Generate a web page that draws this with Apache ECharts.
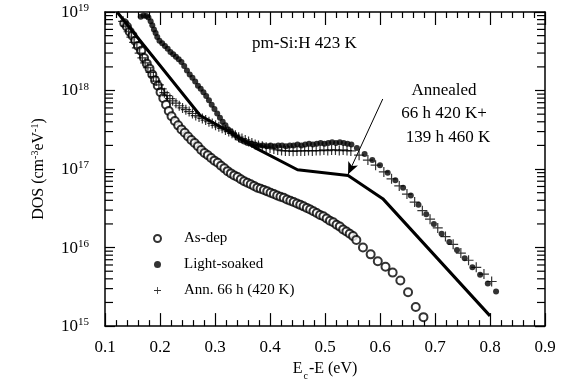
<!DOCTYPE html>
<html>
<head>
<meta charset="utf-8">
<script src="https://cdn.jsdelivr.net/npm/echarts@6/dist/echarts.min.js"></script>
<style>
html,body{margin:0;padding:0;background:#fff;}
#chart{width:569px;height:386px;}
</style>
</head>
<body>
<div id="chart"></div>
<script>
// ---- data (E_c - E in eV, DOS in cm^-3 eV^-1) ----
const xTicks = [0.1, 0.2, 0.3, 0.4, 0.5, 0.6, 0.7, 0.8, 0.9];
const yDecades = [1e15, 1e16, 1e17, 1e18, 1e19];
const minorMultipliers = [2, 3, 4, 5, 6, 7, 8, 9];

const asDep = [
  [0.135,7.2e18],[0.140,6.5e18],[0.145,5.6e18],[0.150,5.0e18],[0.155,4.3e18],[0.160,3.7e18],
  [0.166,3.2e18],[0.171,2.6e18],[0.176,2.2e18],[0.181,1.9e18],[0.186,1.6e18],[0.191,1.35e18],
  [0.196,1.15e18],[0.201,9.5e17],[0.206,8.0e17],[0.211,6.6e17],[0.216,5.5e17],[0.221,4.7e17],
  [0.227,4.1e17],[0.233,3.6e17],[0.239,3.2e17],[0.245,2.9e17],[0.251,2.6e17],[0.257,2.35e17],
  [0.263,2.15e17],[0.269,1.95e17],[0.275,1.75e17],[0.281,1.6e17],[0.287,1.5e17],[0.293,1.38e17],
  [0.299,1.28e17],[0.305,1.2e17],[0.311,1.1e17],[0.317,1.02e17],[0.323,9.4e16],[0.329,8.8e16],
  [0.335,8.3e16],[0.341,7.9e16],[0.347,7.4e16],[0.353,7.0e16],[0.359,6.7e16],[0.365,6.4e16],
  [0.371,6.1e16],[0.377,5.8e16],[0.383,5.6e16],[0.389,5.4e16],[0.395,5.2e16],[0.401,5.0e16],
  [0.407,4.8e16],[0.413,4.6e16],[0.419,4.45e16],[0.425,4.3e16],[0.431,4.1e16],[0.437,3.95e16],
  [0.443,3.8e16],[0.449,3.65e16],[0.455,3.5e16],[0.461,3.35e16],[0.467,3.2e16],[0.473,3.05e16],
  [0.479,2.9e16],[0.485,2.75e16],[0.491,2.6e16],[0.497,2.5e16],[0.503,2.35e16],[0.509,2.2e16],
  [0.515,2.1e16],[0.521,1.95e16],[0.527,1.85e16],[0.533,1.7e16],[0.539,1.6e16],[0.545,1.5e16],
  [0.551,1.4e16],[0.557,1.25e16],[0.569,1.0e16],[0.583,8.2e15],[0.596,6.7e15],[0.610,5.7e15],
  [0.623,4.8e15],[0.637,3.8e15],[0.651,2.7e15],[0.665,1.75e15],[0.679,1.3e15]
];

const lightSoaked = [
  [0.165,8.7e18],[0.170,9.0e18],[0.175,8.9e18],[0.179,8.5e18],[0.183,7.6e18],[0.186,6.8e18],
  [0.189,6.0e18],[0.192,5.4e18],[0.195,4.8e18],[0.199,4.3e18],[0.204,4.0e18],[0.209,3.7e18],
  [0.214,3.4e18],[0.219,3.1e18],[0.224,2.9e18],[0.229,2.7e18],[0.234,2.5e18],[0.239,2.3e18],
  [0.244,2.05e18],[0.249,1.8e18],[0.254,1.6e18],[0.259,1.45e18],[0.264,1.3e18],[0.269,1.15e18],
  [0.274,1.05e18],[0.279,9.5e17],[0.284,8.5e17],[0.289,7.5e17],[0.294,6.6e17],[0.299,5.8e17],
  [0.304,5.1e17],[0.309,4.5e17],[0.314,4.0e17],[0.319,3.6e17],[0.324,3.2e17],[0.329,3.0e17],
  [0.335,2.75e17],[0.341,2.5e17],[0.347,2.35e17],[0.353,2.25e17],[0.359,2.15e17],[0.366,2.1e17],
  [0.373,2.05e17],[0.380,2.0e17],[0.387,2.0e17],[0.394,1.95e17],[0.401,2.0e17],[0.408,1.95e17],
  [0.415,2.0e17],[0.422,2.0e17],[0.429,1.95e17],[0.436,2.0e17],[0.443,2.0e17],[0.450,2.05e17],
  [0.457,2.0e17],[0.464,2.05e17],[0.471,2.1e17],[0.478,2.05e17],[0.485,2.1e17],[0.492,2.15e17],
  [0.499,2.1e17],[0.506,2.15e17],[0.513,2.2e17],[0.520,2.15e17],[0.527,2.2e17],[0.534,2.15e17],
  [0.541,2.1e17],[0.548,2.05e17],[0.558,1.85e17],[0.572,1.55e17],[0.586,1.3e17],[0.600,1.12e17],
  [0.614,9.0e16],[0.628,7.2e16],[0.642,5.8e16],[0.656,4.6e16],[0.670,3.5e16],[0.684,2.65e16],
  [0.698,2.0e16],[0.712,1.5e16],[0.726,1.18e16],[0.740,9.3e15],[0.754,7.3e15],[0.768,5.6e15],
  [0.782,4.5e15],[0.796,3.5e15],[0.811,2.75e15]
];

const ann66h = [
  [0.133,7.6e18],[0.138,6.6e18],[0.143,5.6e18],[0.148,4.8e18],[0.153,4.1e18],[0.158,3.5e18],
  [0.163,3.0e18],[0.168,2.6e18],[0.173,2.25e18],[0.178,1.95e18],[0.183,1.7e18],[0.188,1.5e18],
  [0.193,1.32e18],[0.198,1.18e18],[0.203,1.05e18],[0.208,9.4e17],[0.213,8.6e17],[0.218,7.9e17],
  [0.223,7.4e17],[0.229,6.9e17],[0.235,6.4e17],[0.241,6.0e17],[0.247,5.7e17],[0.253,5.4e17],
  [0.259,5.1e17],[0.265,4.8e17],[0.271,4.6e17],[0.277,4.4e17],[0.283,4.2e17],[0.289,4.0e17],
  [0.295,3.8e17],[0.301,3.6e17],[0.307,3.45e17],[0.313,3.3e17],[0.319,3.15e17],[0.325,3.0e17],
  [0.331,2.85e17],[0.337,2.7e17],[0.343,2.55e17],[0.349,2.45e17],[0.355,2.35e17],[0.361,2.25e17],
  [0.367,2.15e17],[0.373,2.05e17],[0.379,2.0e17],[0.386,1.95e17],[0.393,1.9e17],[0.400,1.85e17],
  [0.407,1.8e17],[0.414,1.75e17],[0.421,1.72e17],[0.428,1.7e17],[0.435,1.7e17],[0.442,1.68e17],
  [0.449,1.7e17],[0.456,1.7e17],[0.463,1.7e17],[0.470,1.72e17],[0.477,1.7e17],[0.484,1.72e17],
  [0.491,1.72e17],[0.498,1.75e17],[0.505,1.72e17],[0.512,1.75e17],[0.519,1.75e17],[0.526,1.72e17],
  [0.533,1.75e17],[0.540,1.72e17],[0.547,1.7e17],[0.562,1.5e17],[0.578,1.3e17],[0.592,1.12e17],
  [0.607,9.2e16],[0.621,7.5e16],[0.635,6.1e16],[0.649,4.8e16],[0.663,3.8e16],[0.677,2.95e16],
  [0.691,2.3e16],[0.705,1.78e16],[0.719,1.38e16],[0.733,1.1e16],[0.747,8.5e15],[0.761,6.9e15],
  [0.775,5.6e15],[0.789,4.6e15],[0.803,3.7e15]
];

const annealedLine = [
  [0.122,1.0e19],[0.273,4.8e17],[0.322,3.1e17],[0.376,1.82e17],[0.450,9.8e16],
  [0.542,8.3e16],[0.605,4.2e16],[0.800,1.35e15]
];

const arrowFrom = [0.605, 7.8e17];
const arrowTo = [0.542, 8.6e16];

const seriesNames = ['As-dep', 'Light-soaked', 'Ann. 66 h (420 K)'];
const sampleLabel = 'pm-Si:H 423 K';
const annotationLines = ['Annealed', '66 h 420 K+', '139 h 460 K'];

// ---- chart ----
const FONT = '"Liberation Serif", "Times New Roman", serif';
const minorTickValues = [];
yDecades.slice(0, -1).forEach(d => minorMultipliers.forEach(m => minorTickValues.push([0.1, d * m])));

const plusPath = 'path://M0,4.4H10V5.6H0Z M4.4,0H5.6V10H4.4Z';

const chart = echarts.init(document.getElementById('chart'), null, {renderer: 'canvas'});

const axisLineStyle = {color: '#000', width: 1.5};
const baseX = {
  type: 'value', min: 0.1, max: 0.9, interval: 0.1,
  axisLine: {show: true, onZero: false, lineStyle: axisLineStyle},
  axisTick: {show: true, inside: true, length: 13, lineStyle: {color: '#000', width: 1.2}},
  minorTick: {show: true, splitNumber: 5, length: 6, lineStyle: {color: '#000', width: 1.2}},
  splitLine: {show: false}, minorSplitLine: {show: false}
};
const baseY = {
  type: 'log', logBase: 10, min: 1e15, max: 1e19,
  axisLine: {show: true, onZero: false, lineStyle: axisLineStyle},
  axisTick: {show: true, inside: true, length: 10, lineStyle: {color: '#000', width: 1.2}},
  splitLine: {show: false}
};

const option = {
  animation: false,
  backgroundColor: '#fff',
  textStyle: {fontFamily: FONT, color: '#000'},
  grid: {left: 105, right: 24, top: 12, bottom: 56, containLabel: false},
  xAxis: [
    Object.assign({}, baseX, {
      position: 'bottom',
      axisLabel: {show: true, margin: 13, fontSize: 17, fontFamily: FONT, color: '#000',
        formatter: v => v.toFixed(1)},
      name: '{a|E}{sub|c}{a|-E (eV)}',
      nameLocation: 'middle', nameGap: 31,
      nameTextStyle: {
        rich: {
          a: {fontSize: 16, fontFamily: FONT, color: '#000', verticalAlign: 'bottom', padding: [0, 0, 4, 0]},
          sub: {fontSize: 10, fontFamily: FONT, color: '#000', verticalAlign: 'bottom', padding: [0, 1, 0, 1]}
        }
      }
    }),
    Object.assign({}, baseX, {position: 'top', axisLabel: {show: false}})
  ],
  yAxis: [
    Object.assign({}, baseY, {
      position: 'left',
      axisLabel: {show: true, margin: 16,
        formatter: v => '{b|10}{s|' + Math.round(Math.log10(v)) + '}',
        rich: {
          b: {fontSize: 17, fontFamily: FONT, color: '#000', verticalAlign: 'bottom'},
          s: {fontSize: 11, fontFamily: FONT, color: '#000', verticalAlign: 'bottom', padding: [0, 0, 7, 0]}
        }
      },
      name: '{a|DOS (cm}{s|-3}{a|eV}{s|-1}{a|)}',
      nameLocation: 'middle', nameGap: 58, nameRotate: 90,
      nameTextStyle: {
        rich: {
          a: {fontSize: 16, fontFamily: FONT, color: '#000', verticalAlign: 'bottom'},
          s: {fontSize: 10, fontFamily: FONT, color: '#000', verticalAlign: 'bottom', padding: [0, 0, 7, 0]}
        }
      }
    }),
    Object.assign({}, baseY, {position: 'right', axisLabel: {show: false}})
  ],
  legend: {
    show: true, orient: 'vertical', left: 148, top: 226,
    itemWidth: 7, itemHeight: 7, itemGap: 11,
    data: seriesNames,
    textStyle: {fontSize: 15, fontFamily: FONT, color: '#000', padding: [0, 0, 0, 18]},
    selectedMode: false
  },
  series: [
    {
      name: seriesNames[0], type: 'scatter', data: asDep,
      symbol: 'emptyCircle', symbolSize: 8,
      itemStyle: {color: '#000', borderColor: '#000', borderWidth: 1}, z: 3
    },
    {
      name: seriesNames[1], type: 'scatter', data: lightSoaked,
      symbol: 'circle', symbolSize: 6,
      itemStyle: {color: '#000'}, z: 3
    },
    {
      name: seriesNames[2], type: 'scatter', data: ann66h,
      symbol: plusPath, symbolSize: 10, symbolKeepAspect: true,
      itemStyle: {color: '#000'}, z: 3
    },
    {
      name: 'Annealed 66 h 420 K + 139 h 460 K', type: 'line', data: annealedLine,
      symbol: 'none', smooth: false,
      lineStyle: {color: '#000', width: 3}, z: 4,
      markLine: {
        silent: true, animation: false,
        symbol: ['none', 'arrow'], symbolSize: [8, 12],
        lineStyle: {color: '#000', width: 1, type: 'solid'},
        label: {show: false},
        data: [[{coord: arrowFrom}, {coord: arrowTo}]]
      }
    },
    {
      name: 'minorTicks', type: 'custom', data: minorTickValues, silent: true,
      encode: {x: 0, y: 1}, clip: false, z: 5,
      renderItem: function (params, api) {
        const y = api.coord([api.value(0), api.value(1)])[1];
        const cs = params.coordSys;
        const st = {stroke: '#000', lineWidth: 1.2};
        return {type: 'group', children: [
          {type: 'line', shape: {x1: cs.x, y1: y, x2: cs.x + 8, y2: y}, style: st},
          {type: 'line', shape: {x1: cs.x + cs.width - 8, y1: y, x2: cs.x + cs.width, y2: y}, style: st}
        ]};
      }
    }
  ],
  graphic: [
    {type: 'text', x: 252, y: 35, style: {text: sampleLabel, font: '17px ' + FONT, fill: '#000'}},
    {type: 'text', x: 444, y: 91, style: {text: annotationLines[0], font: '17px ' + FONT, fill: '#000', align: 'center', verticalAlign: 'middle'}},
    {type: 'text', x: 444, y: 114, style: {text: annotationLines[1], font: '17px ' + FONT, fill: '#000', align: 'center', verticalAlign: 'middle'}},
    {type: 'text', x: 448, y: 138, style: {text: annotationLines[2], font: '17px ' + FONT, fill: '#000', align: 'center', verticalAlign: 'middle'}}
  ]
};
chart.setOption(option);
</script>
</body>
</html>
